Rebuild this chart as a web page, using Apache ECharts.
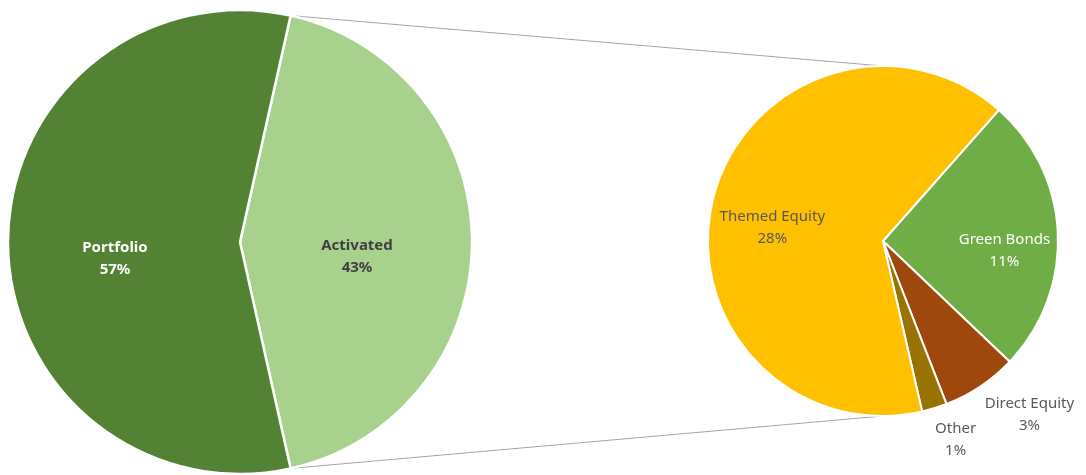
<!DOCTYPE html>
<html><head><meta charset="utf-8">
<script src="https://cdn.jsdelivr.net/npm/echarts@6/dist/echarts.min.js"></script>
<style>html,body{margin:0;padding:0;background:#fff}#c{width:1086px;height:475px}</style>
</head><body><div id="c"></div>
<script>
// ---- data ----
const mainCategories = ['Activated', 'Portfolio'];
const mainValues = [43, 57];
const subCategories = ['Green Bonds', 'Direct Equity', 'Other', 'Themed Equity'];
const subValues = [11, 3, 1, 28];

// ---- style / layout ----
const L = {cx: 240, cy: 242, r: 232};
const R = {cx: 883, cy: 241, r: 175};
const mainColors = ['#A9D18E', '#548235'];
const subColors = ['#70AD47', '#9E480E', '#997300', '#FFC000'];
const mainLabelColors = ['#404040', '#ffffff'];
const subLabelColors = ['#ffffff', '#595959', '#595959', '#595959'];
const mainLabelOffsets = [[-2, 15], [-6, 17]];
const subLabelOffsets = [[31, 14], [96, 99], [46, 112], [-23, 9]];
const subStartCW = 41.5;
const FONT = '"Noto Sans", "Open Sans", sans-serif';

const mainSum = mainValues.reduce((a, b) => a + b, 0);
const activatedSpan = mainValues[0] / mainSum * 360;
const mainStartCW = 90 - activatedSpan / 2;
const mainEndCW = mainStartCW + activatedSpan;
const rad = d => d * Math.PI / 180;

const mainData = mainCategories.map((n, i) => ({
  name: n, value: mainValues[i],
  itemStyle: {color: mainColors[i]},
  label: {color: mainLabelColors[i], offset: mainLabelOffsets[i]}
}));
const subData = subCategories.map((n, i) => ({
  name: n, value: subValues[i],
  itemStyle: {color: subColors[i]},
  label: {color: subLabelColors[i], offset: subLabelOffsets[i]}
}));

const p1 = [L.cx + L.r * Math.sin(rad(mainStartCW)), L.cy - L.r * Math.cos(rad(mainStartCW))];
const p2 = [L.cx + L.r * Math.sin(rad(mainEndCW)), L.cy - L.r * Math.cos(rad(mainEndCW))];

const chart = echarts.init(document.getElementById('c'), null, {renderer: 'canvas'});
chart.setOption({
  animation: false,
  backgroundColor: '#ffffff',
  graphic: [
    {type: 'line', z: 0, shape: {x1: p1[0], y1: p1[1], x2: R.cx, y2: R.cy - R.r}, style: {stroke: '#a6a6a6', lineWidth: 1}},
    {type: 'line', z: 0, shape: {x1: p2[0], y1: p2[1], x2: R.cx, y2: R.cy + R.r}, style: {stroke: '#a6a6a6', lineWidth: 1}}
  ],
  series: [
    {
      type: 'pie', center: [L.cx, L.cy], radius: [0, L.r],
      startAngle: 90 - mainStartCW, clockwise: true,
      silent: true,
      itemStyle: {borderColor: '#ffffff', borderWidth: 2.5},
      label: {show: true, position: 'inside', formatter: '{b}\n{c}%', fontFamily: FONT,
        fontSize: 15, fontWeight: 'bold', lineHeight: 22},
      labelLine: {show: false},
      data: mainData
    },
    {
      type: 'pie', center: [R.cx, R.cy], radius: [0, R.r],
      startAngle: 90 - subStartCW, clockwise: true,
      silent: true,
      itemStyle: {borderColor: '#ffffff', borderWidth: 2},
      label: {show: true, position: 'inside', formatter: '{b}\n{c}%', fontFamily: FONT,
        fontSize: 15, lineHeight: 22},
      labelLine: {show: false},
      data: subData
    }
  ]
});
</script></body></html>
